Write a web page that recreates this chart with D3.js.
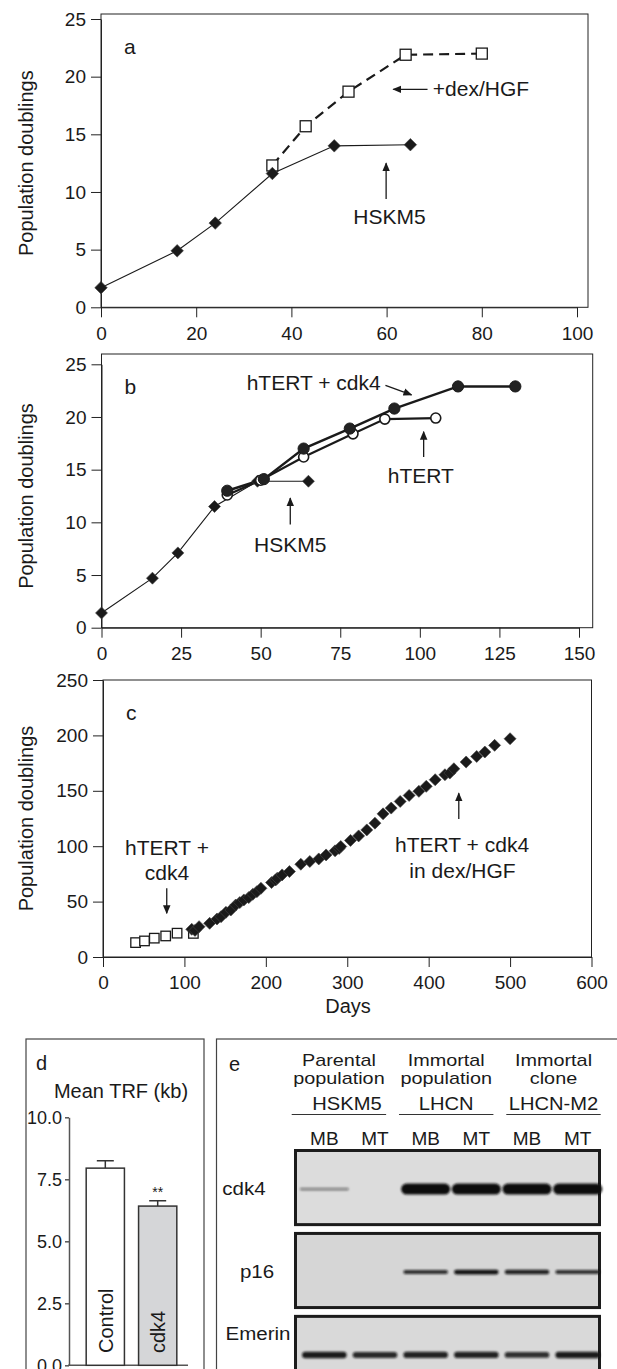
<!DOCTYPE html>
<html>
<head>
<meta charset="utf-8">
<script src="https://cdn.jsdelivr.net/npm/d3@7"></script>
<style>
  body { margin: 0; background: #fff; }
  svg { display: block; }
  text { font-family: "Liberation Sans", Arial, Helvetica, sans-serif; fill: #1a1a1a; }
</style>
</head>
<body>
<script>
// ---- data ----
// panel a
const aHskmDays = [0, 16, 24, 36, 49, 65];
const aHskmPD = [1.7, 4.9, 7.3, 11.6, 14.0, 14.1];
const aDexDays = [36, 43, 52, 64, 80];
const aDexPD = [12.3, 15.7, 18.7, 21.9, 22.0];

// panel b
const bHskmDays = [0, 16, 24, 35.5, 49, 65];
const bHskmPD = [1.4, 4.7, 7.1, 11.5, 13.9, 13.9];
const bTertCdkDays = [39.5, 51, 63.5, 78, 92, 112, 130];
const bTertCdkPD = [13.0, 14.1, 17.0, 18.9, 20.8, 22.9, 22.9];
const bTertDays = [39.5, 50, 63.5, 79, 89, 105];
const bTertPD = [12.6, 14.0, 16.2, 18.4, 19.8, 19.9];

// panel c
const cSquareDays = [40, 51, 63, 77, 91, 111];
const cSquarePD = [13, 14.5, 17, 19, 21.5, 21.3];
const cDiamondDays = [109, 113, 118, 131, 140, 145, 151, 157, 163, 168, 173, 179, 184, 189, 194,
  207, 212, 214, 220, 229, 243, 254, 265, 274, 285, 290, 292, 304, 314, 324, 334, 344, 354,
  365, 376, 388, 397, 408, 420, 426, 431, 446, 459, 469, 481, 500];
const cDiamondPD = [25, 24, 27.4, 30.4, 34.3, 36.4, 40.3, 42.4, 46.9, 49.1, 51.5, 53.6, 56.6, 59, 62,
  67.2, 69.5, 71.1, 74.1, 77.1, 83.7, 86.2, 88.5, 92.1, 95.8, 98, 99.7, 105.2, 109.3, 114.7, 120.8, 129.2, 134.4,
  140.4, 145.8, 149.5, 154, 160, 164.5, 166, 169.9, 176, 181, 185, 191, 197];

// panel d
const trfGroups = ["Control", "cdk4"];
const trfMean = [7.95, 6.42];
const trfErr = [0.3, 0.22];
const trfTicks = [0, 2.5, 5, 7.5, 10];

// panel e
const groupTop = ["Parental", "Immortal", "Immortal"];
const groupMid = ["population", "population", "clone"];
const groupName = ["HSKM5", "LHCN", "LHCN-M2"];
const lanes = ["MB", "MT", "MB", "MT", "MB", "MT"];
const blotRows = ["cdk4", "p16", "Emerin"];
const cdk4Bands = [0.15, 0, 1, 1, 1, 1];
const p16Bands = [0, 0, 0.75, 0.95, 0.85, 0.75];
const emerinBands = [0.9, 0.8, 0.85, 0.85, 0.75, 0.9];

const font = '"Liberation Sans", Arial, Helvetica, sans-serif';
const ink = "#1a1a1a";

const svg = d3.select("body").append("svg")
    .attr("width", 617)
    .attr("height", 1369);

const defs = svg.append("defs");
defs.append("marker")
    .attr("id", "arrow")
    .attr("viewBox", "0 0 10 10")
    .attr("refX", 9).attr("refY", 5)
    .attr("markerWidth", 9).attr("markerHeight", 9)
    .attr("markerUnits", "userSpaceOnUse")
    .attr("orient", "auto")
    .append("path")
    .attr("d", "M0,0.8L10,5L0,9.2z")
    .attr("fill", ink);
defs.append("filter").attr("id", "blur")
    .attr("x", "-20%").attr("y", "-100%").attr("width", "140%").attr("height", "300%")
    .append("feGaussianBlur").attr("stdDeviation", 1.2);

const zip = (a, b) => a.map((v, i) => [v, b[i]]);

function styleAxis(sel, size) {
    sel.selectAll("text").attr("font-size", size).attr("font-family", font).attr("fill", ink);
    sel.selectAll("line, path").attr("stroke", "#222");
}

// Draw frame + axes for one of the growth curve panels
function linePanel(cfg) {
    const x = d3.scaleLinear().domain(cfg.xDomain).range(cfg.xRange);
    const y = d3.scaleLinear().domain(cfg.yDomain).range(cfg.yRange);
    const g = svg.append("g");

    g.append("rect")
        .attr("x", cfg.xRange[0])
        .attr("y", cfg.frameTop)
        .attr("width", cfg.frameRight - cfg.xRange[0])
        .attr("height", cfg.yRange[0] - cfg.frameTop)
        .attr("fill", "none")
        .attr("stroke", "#222")
        .attr("stroke-width", 1);

    g.append("g")
        .attr("transform", `translate(${cfg.xRange[0]},0)`)
        .call(d3.axisLeft(y).tickValues(cfg.yTicks).tickSize(10).tickPadding(5).tickSizeOuter(0))
        .call(s => styleAxis(s, 19));

    g.append("g")
        .attr("transform", `translate(0,${cfg.yRange[0]})`)
        .call(d3.axisBottom(x).tickValues(cfg.xTicks).tickSize(10).tickPadding(9).tickSizeOuter(0))
        .call(s => styleAxis(s, 19));

    // axis title
    g.append("text")
        .attr("transform", `translate(33,${(cfg.yRange[0] + cfg.yRange[1]) / 2}) rotate(-90)`)
        .attr("text-anchor", "middle")
        .attr("font-size", 20)
        .text("Population doublings");

    // panel letter
    g.append("text")
        .attr("x", cfg.xRange[0] + 23)
        .attr("y", cfg.frameTop + 40)
        .attr("font-size", 21)
        .text(cfg.letter);

    return { g, x, y };
}

function drawLine(p, pts, width, dash) {
    p.g.append("path")
        .datum(pts)
        .attr("d", d3.line().x(d => p.x(d[0])).y(d => p.y(d[1])))
        .attr("fill", "none")
        .attr("stroke", ink)
        .attr("stroke-width", width)
        .attr("stroke-dasharray", dash || null);
}

function drawDiamonds(p, pts, diag) {
    const side = diag / Math.SQRT2;
    p.g.append("g").selectAll("path")
        .data(pts)
        .join("path")
        .attr("d", d3.symbol(d3.symbolSquare, side * side))
        .attr("transform", d => `translate(${p.x(d[0])},${p.y(d[1])}) rotate(45)`)
        .attr("fill", ink)
        .attr("stroke", "#444")
        .attr("stroke-width", 0.6);
}

function drawSquares(p, pts, side) {
    p.g.append("g").selectAll("rect")
        .data(pts)
        .join("rect")
        .attr("x", d => p.x(d[0]) - side / 2)
        .attr("y", d => p.y(d[1]) - side / 2)
        .attr("width", side)
        .attr("height", side)
        .attr("fill", "#fff")
        .attr("stroke", ink)
        .attr("stroke-width", 1.3);
}

function drawCircles(p, pts, r, filled) {
    p.g.append("g").selectAll("circle")
        .data(pts)
        .join("circle")
        .attr("cx", d => p.x(d[0]))
        .attr("cy", d => p.y(d[1]))
        .attr("r", r)
        .attr("fill", filled ? "#222" : "#fff")
        .attr("stroke", ink)
        .attr("stroke-width", filled ? 1 : 1.6);
}

function arrow(p, x1, y1, x2, y2) {
    p.g.append("line")
        .attr("x1", p.x(x1)).attr("y1", p.y(y1))
        .attr("x2", p.x(x2)).attr("y2", p.y(y2))
        .attr("stroke", ink)
        .attr("stroke-width", 1.3)
        .attr("marker-end", "url(#arrow)");
}

function note(p, str, x, y, anchor) {
    p.g.append("text")
        .attr("x", p.x(x))
        .attr("y", p.y(y))
        .attr("text-anchor", anchor || "middle")
        .attr("font-size", 21)
        .text(str);
}

// ---- panel a ----
const pa = linePanel({
    letter: "a",
    xDomain: [0, 100], xRange: [101, 577], xTicks: d3.range(0, 101, 20),
    yDomain: [0, 25], yRange: [307.3, 19], yTicks: d3.range(0, 26, 5),
    frameTop: 14, frameRight: 588
});
drawLine(pa, zip(aDexDays, aDexPD), 2.2, "10,6");
drawLine(pa, zip(aHskmDays, aHskmPD), 1.1);
drawSquares(pa, zip(aDexDays, aDexPD), 11);
drawDiamonds(pa, zip(aHskmDays, aHskmPD), 12.5);
arrow(pa, 68.6, 18.9, 61.4, 18.9);
note(pa, "+dex/HGF", 69.7, 18.3, "start");
arrow(pa, 59.9, 9.4, 59.9, 12.5);
note(pa, "HSKM5", 60.6, 7.2);

// ---- panel b ----
const pb = linePanel({
    letter: "b",
    xDomain: [0, 150], xRange: [101.5, 579], xTicks: d3.range(0, 151, 25),
    yDomain: [0, 25], yRange: [627.7, 364.3], yTicks: d3.range(0, 26, 5),
    frameTop: 354, frameRight: 592.7
});
drawLine(pb, zip(bHskmDays, bHskmPD), 1.1);
drawLine(pb, zip(bTertDays, bTertPD), 2.2);
drawLine(pb, zip(bTertCdkDays, bTertCdkPD), 2.4);
drawDiamonds(pb, zip(bHskmDays, bHskmPD), 12);
drawCircles(pb, zip(bTertDays, bTertPD), 5, false);
drawCircles(pb, zip(bTertCdkDays, bTertCdkPD), 5.6, true);
note(pb, "hTERT + cdk4", 87.7, 22.6, "end");
arrow(pb, 89.2, 23.0, 97.4, 22.1);
arrow(pb, 101.2, 16.2, 101.2, 18.6);
note(pb, "hTERT", 100.3, 13.7);
arrow(pb, 59.3, 9.8, 59.3, 12.3);
note(pb, "HSKM5", 59.3, 7.2);

// ---- panel c ----
const pc = linePanel({
    letter: "c",
    xDomain: [0, 600], xRange: [103, 591.5], xTicks: d3.range(0, 601, 100),
    yDomain: [0, 250], yRange: [957, 680], yTicks: d3.range(0, 251, 50),
    frameTop: 680, frameRight: 591.5
});
drawSquares(pc, zip(cSquareDays, cSquarePD), 9.5);
drawDiamonds(pc, zip(cDiamondDays, cDiamondPD), 12);
note(pc, "hTERT +", 78.6, 92);
note(pc, "cdk4", 78.6, 69.5);
arrow(pc, 78.3, 62, 78.3, 39.5);
note(pc, "hTERT + cdk4", 441, 95);
note(pc, "in dex/HGF", 441.5, 71);
arrow(pc, 437, 124.5, 437, 147.8);
pc.g.append("text")
    .attr("x", 348).attr("y", 1013)
    .attr("text-anchor", "middle")
    .attr("font-size", 20)
    .text("Days");

// ---- panel d: mean TRF ----
const gd = svg.append("g");
gd.append("rect")
    .attr("x", 26).attr("y", 1039).attr("width", 178).attr("height", 400)
    .attr("fill", "none").attr("stroke", "#444").attr("stroke-width", 1.2);
gd.append("text").attr("x", 36).attr("y", 1070).attr("font-size", 20).text("d");
gd.append("text").attr("x", 121).attr("y", 1098).attr("text-anchor", "middle")
    .attr("font-size", 20).text("Mean TRF (kb)");

const dX = d3.scaleBand().domain(trfGroups).range([71, 192]).paddingInner(0.27).paddingOuter(0.29);
const dY = d3.scaleLinear().domain([0, 10]).range([1365.3, 1117.3]);

gd.append("g")
    .attr("transform", "translate(69,0)")
    .call(d3.axisLeft(dY).tickValues(trfTicks).tickFormat(d3.format(".1f")).tickSize(4).tickPadding(3).tickSizeOuter(0))
    .call(s => {
        styleAxis(s, 18);
        s.selectAll("line, path").attr("stroke", "#555").attr("stroke-width", 1.5);
    });
gd.append("line")
    .attr("x1", 68).attr("x2", 188)
    .attr("y1", dY(0)).attr("y2", dY(0))
    .attr("stroke", "#555").attr("stroke-width", 1.5);

const trf = trfGroups.map((k, i) => ({ k, m: trfMean[i], e: trfErr[i] }));
const barFill = { Control: "#ffffff", cdk4: "#d5d6d8" };
gd.selectAll(".err").data(trf).join("path")
    .attr("d", d => {
        const cx = dX(d.k) + dX.bandwidth() / 2;
        return `M${cx},${dY(d.m)}V${dY(d.m + d.e)}M${cx - 8.5},${dY(d.m + d.e)}H${cx + 8.5}`;
    })
    .attr("stroke", "#333").attr("stroke-width", 1.5).attr("fill", "none");
gd.selectAll(".bar").data(trf).join("rect")
    .attr("x", d => dX(d.k))
    .attr("y", d => dY(d.m))
    .attr("width", dX.bandwidth())
    .attr("height", d => dY(0) - dY(d.m))
    .attr("fill", d => barFill[d.k])
    .attr("stroke", "#333").attr("stroke-width", 1.5);
gd.selectAll(".blabel").data(trf).join("text")
    .attr("transform", d => `translate(${dX(d.k) + dX.bandwidth() / 2 + 7.5},1353) rotate(-90)`)
    .attr("font-size", 20)
    .text(d => d.k);
gd.append("text")
    .attr("x", dX("cdk4") + dX.bandwidth() / 2)
    .attr("y", dY(trfMean[1] + trfErr[1]) - 4)
    .attr("text-anchor", "middle")
    .attr("font-size", 14)
    .text("**");

// ---- panel e: western blot ----
const ge = svg.append("g");
ge.append("rect")
    .attr("x", 216.5).attr("y", 1039).attr("width", 420).attr("height", 400)
    .attr("fill", "none").attr("stroke", "#444").attr("stroke-width", 1.2);
ge.append("text").attr("x", 229).attr("y", 1071).attr("font-size", 20).text("e");

const gX = d3.scaleBand().domain(d3.range(groupName.length)).range([291.7, 600.7]).paddingInner(0.12);
const laneX = d3.scaleBand().domain(d3.range(lanes.length)).range([299, 603]);
const rowY = d3.scaleBand().domain(blotRows).range([1149, 1392]).paddingInner(0.07);

function stretched(str, cx, base, size, sx) {
    ge.append("text")
        .attr("transform", `translate(${cx},${base}) scale(${sx},1)`)
        .attr("text-anchor", "middle")
        .attr("font-size", size)
        .text(str);
}
groupName.forEach((name, i) => {
    const cx = gX(i) + gX.bandwidth() / 2;
    stretched(groupTop[i], cx, 1066, 16, 1.24);
    stretched(groupMid[i], cx, 1084, 16, 1.24);
    stretched(name, cx + (i === 0 ? 8 : 0), 1110, 18, 1.12);
    ge.append("line")
        .attr("x1", gX(i)).attr("x2", gX(i) + gX.bandwidth())
        .attr("y1", 1114.5).attr("y2", 1114.5)
        .attr("stroke", "#333").attr("stroke-width", 1.2);
});
lanes.forEach((lab, i) => {
    ge.append("text")
        .attr("x", laneX(i) + laneX.bandwidth() / 2)
        .attr("y", 1145)
        .attr("text-anchor", "middle")
        .attr("font-size", 19)
        .text(lab);
});

const rowBands = { cdk4: cdk4Bands, p16: p16Bands, Emerin: emerinBands };
const rowThick = { cdk4: 11, p16: 5, Emerin: 7 };
const rowBg = { cdk4: "#dcdcdc", p16: "#d6d6d6", Emerin: "#d9d9d9" };
const rowLabelX = { cdk4: 244, p16: 257, Emerin: 258 };
const rowLabelShift = { cdk4: 0, p16: 0, Emerin: -21 };

blotRows.forEach(row => {
    const top = rowY(row), h = rowY.bandwidth();
    const bandY = top + h * 0.52;
    ge.append("rect")
        .attr("x", 295.5).attr("y", top + 1.5)
        .attr("width", 304).attr("height", h - 3)
        .attr("fill", rowBg[row])
        .attr("stroke", "#1c1c1c").attr("stroke-width", 3);
    const wFrac = row === "cdk4" ? 0.97 : 0.88;
    ge.append("g").attr("filter", "url(#blur)")
        .selectAll("rect")
        .data(rowBands[row].map((v, i) => ({ v, i })).filter(d => d.v > 0))
        .join("rect")
        .attr("x", d => laneX(d.i) + laneX.bandwidth() * (1 - wFrac) / 2)
        .attr("width", laneX.bandwidth() * wFrac)
        .attr("y", d => bandY - rowThick[row] * Math.pow(d.v, 0.7) / 2)
        .attr("height", d => rowThick[row] * Math.pow(d.v, 0.7))
        .attr("rx", d => rowThick[row] * Math.pow(d.v, 0.7) / 2)
        .attr("fill", "#111")
        .attr("opacity", d => 0.35 + 0.65 * d.v);
    ge.append("text")
        .attr("transform", `translate(${rowLabelX[row]},${bandY + rowLabelShift[row] + 6}) scale(1.08,1)`)
        .attr("text-anchor", "middle")
        .attr("font-size", 19)
        .text(row);
});
</script>
</body>
</html>
